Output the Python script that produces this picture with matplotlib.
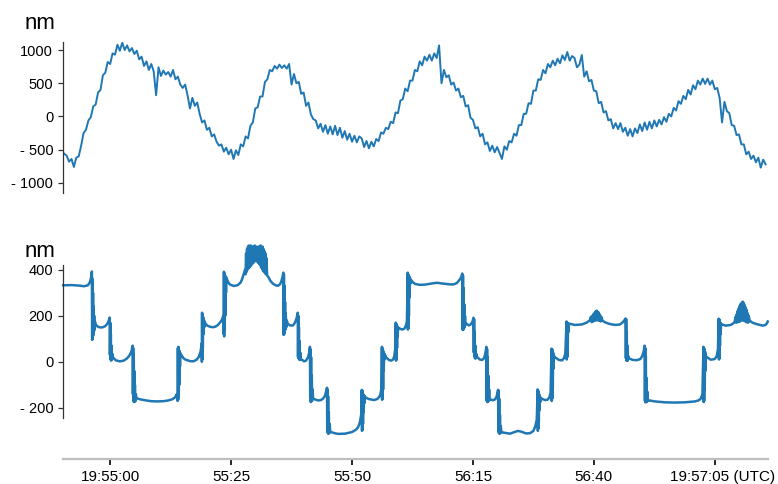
import numpy as np
import matplotlib
matplotlib.use("Agg")
import matplotlib.pyplot as plt
import matplotlib.transforms as mtransforms

plt.rcParams['font.family'] = ['Liberation Sans', 'DejaVu Sans']

# ---------------- data ----------------
# seconds relative to 19:55:00 UTC
x_ticks = [0, 25, 50, 75, 100, 125]
x_ticklabels = ["19:55:00", "55:25", "55:50", "56:15", "56:40", "19:57:05 (UTC)"]

top_yticks = [1000, 500, 0, -500, -1000]
top_yticklabels = ["1000", "500", "0", "- 500", "- 1000"]
bot_yticks = [400, 200, 0, -200]
bot_yticklabels = ["400", "200", "0", "- 200"]
unit_label = "nm"

# top trace: sampled every 0.5 s starting at t = -9.5 s (nm)
top_t0 = -9.5
top_dt = 0.5
top_nm = [
    -560, -590, -680, -640, -760, -620, -600, -440, -250, -200,
    -60, -10, 150, 180, 360, 400, 620, 660, 820, 790,
    950, 930, 1080, 990, 1110, 1000, 1070, 980, 1030, 940,
    990, 860, 900, 760, 830, 700, 790, 680, 320, 740,
    610, 690, 630, 670, 600, 700, 560, 600, 480, 430,
    480, 320, 120, 280, 160, 210, 40, -90, -60, -200,
    -170, -300, -270, -380, -440, -420, -530, -470, -570, -500,
    -640, -510, -580, -420, -450, -300, -330, -140, -90, 120,
    140, 300, 300, 520, 560, 700, 680, 760, 720, 780,
    730, 770, 720, 790, 480, 640, 500, 520, 340, 360,
    160, 210, 30, -40, -60, -180, -110, -230, -130, -260,
    -150, -270, -140, -280, -170, -320, -220, -350, -260, -380,
    -290, -390, -300, -330, -460, -370, -480, -380, -450, -340,
    -370, -240, -260, -170, -190, -80, -100, 60, 50, 240,
    260, 420, 380, 540, 540, 700, 680, 830, 770, 900,
    840, 930, 840, 950, 880, 1070, 500, 700, 590, 620,
    480, 510, 390, 420, 290, 310, 150, 170, -20, -50,
    -180, -160, -300, -260, -420, -390, -520, -440, -540, -460,
    -550, -640, -450, -500, -370, -390, -260, -290, -130, -130,
    40, 40, 200, 190, 390, 390, 560, 550, 700, 650,
    790, 740, 840, 770, 870, 800, 920, 850, 970, 840,
    910, 880, 740, 780, 925, 600, 680, 530, 550, 390,
    380, 200, 220, 60, 80, -60, -40, -180, -100, -190,
    -100, -230, -170, -290, -190, -300, -180, -250, -120, -220,
    -90, -200, -80, -180, -60, -150, -50, -120, -10, -80,
    40, 0, 130, 90, 230, 190, 310, 260, 400, 330,
    470, 410, 540, 480, 570, 490, 570, 480, 540, 410,
    430, 280, -90, 220, 80, 50, -130, -140, -280, -270,
    -420, -420, -570, -530, -640, -590, -690, -620, -770, -650,
    -720,
]

# bottom trace: (time s, nm) points
bottom_trace = [
    (-9.7, 332), (-8.0, 333), (-6.5, 331), (-5.4, 328), (-4.6, 332), (-4.2, 345), (-3.95, 365), (-3.78, 392),
    (-3.72, 95), (-3.66, 360), (-3.60, 100), (-3.54, 300), (-3.48, 115), (-3.42, 240), (-3.36, 130), (-3.30, 200), (-3.24, 140), (-3.15, 175),
    (-3.0, 162), (-2.6, 153), (-2.07, 149), (-1.5, 150), (-1.0, 155), (-0.6, 165), (-0.3, 178), (-0.1, 192),
    (-0.05, 30), (0.02, 170), (0.08, 10), (0.14, 120), (0.2, 5), (0.27, 70), (0.35, 10), (0.45, 35),
    (0.62, 18), (1.2, 6), (2.0, 2), (2.8, 5), (3.5, 15), (4.0, 28), (4.4, 45), (4.65, 70),
    (4.7, -140), (4.76, 60), (4.82, -170), (4.88, 30), (4.94, -175), (5.0, -40), (5.06, -170), (5.12, -100), (5.2, -172), (5.3, -140),
    (5.45, -158), (6.2, -163), (7.5, -168), (8.5, -171), (9.7, -172), (11.0, -171), (12.0, -168), (12.8, -163), (13.4, -155), (13.8, -140),
    (13.95, -170), (14.0, 60), (14.06, -165), (14.12, 65), (14.18, -150), (14.24, 50), (14.3, -100), (14.36, 45), (14.44, -20), (14.52, 38),
    (14.7, 30), (15.1, 17), (15.5, 10), (16.5, 3), (17.2, 2), (17.8, 8), (18.3, 20), (18.7, 45), (18.92, 80),
    (18.96, 0), (19.0, 213), (19.05, 10), (19.1, 205), (19.16, 60), (19.22, 195), (19.28, 120), (19.36, 185), (19.45, 150), (19.55, 175),
    (19.7, 165), (20.1, 157), (20.66, 152), (21.3, 150), (21.8, 153), (22.3, 160), (22.7, 170), (23.1, 182), (23.4, 200),
    (23.47, 120), (23.52, 391), (23.57, 110), (23.62, 385), (23.67, 140), (23.73, 375), (23.8, 200), (23.87, 370), (23.95, 300), (24.05, 365),
    (24.2, 355), (24.5, 342), (24.8, 335), (25.6, 329), (26.4, 333), (27.0, 345), (27.3, 360), (27.6, 380), (27.9, 400),
    (28.0, 380), (28.1, 470), (28.2, 390), (28.3, 490), (28.4, 400), (28.5, 500), (28.6, 405), (28.7, 505), (28.8, 410),
    (28.9, 495), (29.0, 415), (29.1, 505), (29.2, 420), (29.3, 490), (29.4, 425), (29.5, 500), (29.6, 430), (29.7, 485),
    (29.8, 435), (29.9, 505), (30.0, 440), (30.1, 490), (30.2, 440), (30.3, 500), (30.4, 435), (30.5, 485), (30.6, 430),
    (30.7, 500), (30.8, 425), (30.9, 490), (31.0, 420), (31.1, 505), (31.2, 410), (31.3, 495), (31.4, 405), (31.5, 500),
    (31.6, 395), (31.7, 490), (31.8, 390), (31.9, 480), (32.0, 385), (32.1, 470), (32.2, 380), (32.3, 450), (32.45, 375),
    (32.8, 365), (33.1, 352), (33.6, 340), (34.2, 332), (34.7, 330), (35.1, 336), (35.4, 350), (35.65, 370), (35.8, 387),
    (35.86, 117), (35.92, 380), (35.98, 120), (36.04, 330), (36.1, 130), (36.16, 260), (36.22, 140), (36.3, 210), (36.4, 150), (36.5, 180),
    (36.7, 165), (37.2, 158), (37.7, 157), (38.0, 163), (38.3, 175), (38.55, 190), (38.78, 213),
    (38.84, 20), (38.9, 200), (38.96, 15), (39.02, 150), (39.08, 10), (39.15, 90), (39.22, 8), (39.3, 40), (39.4, 12),
    (39.6, 10), (40.08, 2), (40.5, 5), (40.9, 20), (41.15, 40), (41.3, 65),
    (41.36, -157), (41.42, 55), (41.48, -175), (41.54, 20), (41.6, -172), (41.68, -60), (41.76, -168), (41.85, -120), (41.95, -160),
    (42.2, -162), (42.98, -168), (43.6, -166), (44.0, -160), (44.4, -148), (44.7, -125), (44.83, -113),
    (44.88, -300), (44.94, -120), (45.0, -310), (45.06, -150), (45.12, -312), (45.2, -220), (45.28, -310), (45.38, -270), (45.5, -305),
    (45.66, -305), (46.4, -310), (47.11, -313), (48.55, -312), (50.0, -305), (50.8, -295), (51.24, -285), (51.6, -265), (51.9, -230), (52.02, -122),
    (52.07, -300), (52.12, -125), (52.17, -295), (52.22, -130), (52.27, -270), (52.33, -140), (52.4, -220), (52.47, -145), (52.55, -180), (52.65, -150),
    (52.8, -155), (53.5, -162), (54.55, -166), (55.2, -162), (55.6, -153), (55.9, -140), (56.1, -110), (56.18, 65),
    (56.22, -165), (56.27, 60), (56.32, -160), (56.37, 55), (56.43, -120), (56.49, 45), (56.56, -40), (56.63, 38), (56.72, 10), (56.82, 30),
    (57.0, 20), (57.64, 8), (58.1, 5), (58.5, 10), (58.75, 25), (58.95, 60), (59.05, 170),
    (59.1, 5), (59.15, 165), (59.2, 10), (59.25, 160), (59.31, 60), (59.37, 155), (59.44, 110), (59.52, 150), (59.62, 142),
    (59.8, 145), (60.33, 140), (60.8, 143), (61.1, 155), (61.35, 175), (61.52, 387),
    (61.55, 140), (61.6, 380), (61.65, 145), (61.7, 375), (61.76, 200), (61.82, 370), (61.9, 280), (61.98, 365), (62.08, 340),
    (62.19, 355), (62.6, 345), (63.02, 338), (64.0, 334), (65.08, 335), (66.5, 340), (67.56, 343), (68.6, 340), (70.25, 336),
    (71.0, 336), (71.69, 342), (72.2, 355), (72.52, 365), (72.8, 383),
    (72.88, 139), (72.94, 375), (73.0, 140), (73.06, 320), (73.12, 145), (73.2, 250), (73.28, 150), (73.36, 200), (73.46, 160),
    (73.6, 166), (74.17, 158), (74.6, 163), (74.9, 175), (75.12, 191),
    (75.18, 40), (75.24, 185), (75.3, 25), (75.36, 130), (75.42, 15), (75.5, 70), (75.58, 15), (75.68, 35),
    (75.83, 22), (76.4, 10), (76.9, 8), (77.3, 15), (77.55, 35), (77.78, 65),
    (77.85, -170), (77.92, 55), (77.98, -175), (78.04, 20), (78.1, -172), (78.18, -60), (78.26, -170), (78.35, -120), (78.45, -165),
    (78.6, -163), (79.13, -167), (79.6, -163), (79.9, -150), (80.1, -130), (80.2, -122),
    (80.25, -300), (80.31, -125), (80.37, -310), (80.43, -160), (80.5, -312), (80.58, -230), (80.66, -310), (80.76, -280), (80.88, -306),
    (81.2, -307), (82.64, -312), (83.5, -306), (84.3, -300), (85.1, -304), (85.95, -311), (86.8, -310), (87.5, -300), (87.9, -280), (88.2, -250), (88.38, -120),
    (88.42, -300), (88.47, -125), (88.52, -290), (88.57, -130), (88.62, -260), (88.68, -140), (88.75, -210), (88.83, -150), (88.92, -175), (89.0, -155),
    (89.2, -160), (89.88, -166), (90.4, -165), (90.8, -155), (91.05, -135), (91.25, 57),
    (91.3, -170), (91.35, 55), (91.4, -160), (91.45, 50), (91.51, -110), (91.57, 40), (91.64, -30), (91.72, 30), (91.82, 15),
    (91.94, 20), (92.77, 8), (93.4, 6), (93.8, 15), (94.1, 35), (94.35, 175),
    (94.4, 10), (94.45, 170), (94.5, 20), (94.55, 168), (94.61, 80), (94.67, 165), (94.75, 130), (94.85, 165),
    (95.04, 165), (96.07, 160), (97.52, 162), (98.5, 170), (99.17, 180), (99.4, 195), (99.55, 172), (99.7, 200), (99.85, 175),
    (100.0, 210), (100.15, 178), (100.3, 218), (100.45, 180), (100.62, 222), (100.78, 180), (100.95, 215), (101.1, 178),
    (101.25, 205), (101.4, 175), (101.55, 195), (101.8, 178), (102.27, 172), (103.0, 166), (103.72, 162), (104.5, 160),
    (105.37, 162), (105.9, 170), (106.3, 180), (106.55, 188),
    (106.62, 15), (106.68, 185), (106.74, 5), (106.8, 130), (106.86, 5), (106.93, 70), (107.0, 5), (107.1, 25),
    (107.23, 15), (108.06, 8), (108.88, 7), (109.6, 12), (110.0, 25), (110.3, 45), (110.5, 70),
    (110.56, -170), (110.62, 60), (110.68, -176), (110.74, 25), (110.8, -175), (110.88, -70), (110.96, -174), (111.06, -130), (111.16, -170),
    (111.5, -168), (112.6, -172), (114.67, -176), (116.74, -177), (118.8, -176), (120.87, -172), (121.6, -168), (122.11, -160), (122.45, -140), (122.65, 65),
    (122.7, -175), (122.75, 60), (122.8, -170), (122.86, 55), (122.92, -120), (122.98, 45), (123.05, -40), (123.13, 35), (123.22, 15),
    (123.35, 20), (124.17, 9), (125.0, 12), (125.4, 25), (125.65, 55), (125.8, 187),
    (125.86, 10), (125.91, 185), (125.96, 15), (126.01, 180), (126.07, 70), (126.13, 170), (126.2, 120), (126.3, 165),
    (126.45, 162), (127.27, 157), (128.31, 160), (128.9, 168), (129.13, 175),
    (129.3, 195), (129.4, 170), (129.5, 205), (129.6, 172), (129.7, 220), (129.8, 172), (129.9, 230), (130.0, 175),
    (130.1, 240), (130.2, 175), (130.3, 250), (130.4, 178), (130.5, 255), (130.6, 180), (130.7, 258), (130.79, 261),
    (130.9, 180), (131.0, 255), (131.1, 178), (131.2, 245), (131.3, 175), (131.4, 235), (131.5, 172), (131.6, 225),
    (131.7, 172), (131.8, 210), (131.9, 170), (132.0, 200), (132.23, 178), (132.8, 170), (133.26, 166), (134.3, 160),
    (135.0, 157), (135.5, 160), (135.8, 168), (135.95, 175),
]

# ---------------- figure ----------------
W, H = 778, 484
DPI = 100
fig = plt.figure(figsize=(W / DPI, H / DPI), dpi=DPI)

line_color = "#1f77b4"
spine_color = "#333333"
x_lo, x_hi = -9.75, 136.0

def px_rect(x0, y0, x1, y1):
    return [x0 / W, 1 - y1 / H, (x1 - x0) / W, (y1 - y0) / H]

ax1 = fig.add_axes(px_rect(63, 42, 768, 193))
ax2 = fig.add_axes(px_rect(63, 242, 768, 459), sharex=ax1)

top_t = top_t0 + top_dt * np.arange(len(top_nm))
ax1.plot(top_t, top_nm, color=line_color, lw=1.4)

bt = np.array([p[0] for p in bottom_trace])
bv = np.array([p[1] for p in bottom_trace])
ax2.plot(bt, bv, color=line_color, lw=1.8, clip_on=False)

ax1.set_xlim(x_lo, x_hi)
ax1.set_ylim(-1152, 1121)
ax2.set_ylim(-422, 520)

for ax in (ax1, ax2):
    ax.spines['top'].set_visible(False)
    ax.spines['right'].set_visible(False)
    ax.spines['left'].set_color(spine_color)
    ax.spines['left'].set_linewidth(0.9)
    ax.tick_params(axis='y', direction='out', length=3.6, width=0.9,
                   color=spine_color, labelsize=10.5, pad=3.5, labelcolor='black')
    ax.set_facecolor('none')

ax1.spines['bottom'].set_visible(False)
ax1.tick_params(axis='x', which='both', bottom=False, labelbottom=False)
ax1.set_yticks(top_yticks)
ax1.set_yticklabels(top_yticklabels)

ax2.set_yticks(bot_yticks)
ax2.set_yticklabels(bot_yticklabels)
ax2.spines['left'].set_bounds(-243, 422)
ax2.spines['bottom'].set_color("#bdbdbd")
ax2.spines['bottom'].set_linewidth(1.6)
ax2.set_xticks(x_ticks)
ax2.set_xticklabels(x_ticklabels)
ax2.tick_params(axis='x', direction='out', length=4, width=1.2, color='black',
                labelsize=11, pad=4, labelcolor='black')

# shift last label slightly right, as in reference
last = ax2.get_xticklabels()[-1]
last.set_transform(last.get_transform() + mtransforms.ScaledTranslation(8 / DPI, 0, fig.dpi_scale_trans))

fig.text(25 / W, 1 - 29 / H, unit_label, fontsize=16, ha='left', va='baseline')
fig.text(25 / W, 1 - 257 / H, unit_label, fontsize=16, ha='left', va='baseline')

fig.savefig("out.png", dpi=DPI)
